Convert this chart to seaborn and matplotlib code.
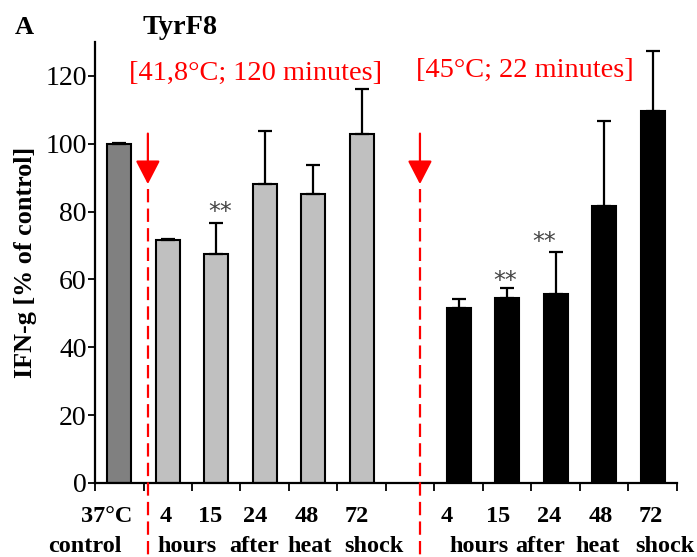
import matplotlib
matplotlib.use("Agg")
import matplotlib.pyplot as plt
import matplotlib.transforms as mtransforms
import seaborn as sns
import pandas as pd
import numpy as np

# ---- data ----
categories = ["ctrl", "g4", "g15", "g24", "g48", "g72", "gap", "b4", "b15", "b24", "b48", "b72"]
values = [100, 71.7, 67.5, 88.2, 85.2, 103.0, None, 51.6, 54.6, 55.8, 81.8, 109.6]
err_up = [0.3, 0.3, 9.0, 15.5, 8.6, 13.0, None, 2.5, 3.0, 12.4, 24.9, 17.8]
bar_colors = ["#808080"] + ["#c0c0c0"] * 5 + ["white"] + ["#000000"] * 5
tick_labels_top = ["37°C", "4", "15", "24", "48", "72", "4", "15", "24", "48", "72"]
tick_label_pos = [-0.26, 0.96, 1.88, 2.80, 3.86, 4.90, 6.76, 7.81, 8.87, 9.92, 10.95]
row2_words = ["control", "hours", "after", "heat", "shock", "hours", "after", "heat", "shock"]
row2_pos = [-0.70, 1.40, 2.78, 3.93, 5.24, 7.41, 8.67, 9.86, 11.25]
stars_x = [2.08, 7.96, 8.77]
stars_y = [80.0, 59.6, 71.1]
treat_labels = ["[41,8°C; 120 minutes]", "[45°C; 22 minutes]"]

sns.set_style("white")
plt.rcParams["font.family"] = ["Liberation Serif", "DejaVu Serif"]
plt.rcParams["text.color"] = "black"
plt.rcParams["axes.labelcolor"] = "black"
plt.rcParams["xtick.color"] = "black"
plt.rcParams["ytick.color"] = "black"

df = pd.DataFrame({"cat": categories, "val": values})
df = df[df["cat"] != "gap"]
pal = {c: col for c, col in zip(categories, bar_colors)}

fig = plt.figure(figsize=(6.97, 5.57), dpi=100)
ax = fig.add_axes([95 / 697, 1 - 483 / 557, (677 - 95) / 697, (483 - 42) / 557])

sns.barplot(data=df, x="cat", y="val", order=categories, hue="cat", palette=pal,
            width=0.5, edgecolor="black", linewidth=1.5, legend=False, ax=ax, errorbar=None)

for i, (c, v, e) in enumerate(zip(categories, values, err_up)):
    if v is None:
        continue
    ax.errorbar(i, v, yerr=[[0], [e]], fmt="none", ecolor="black", elinewidth=1.6,
                capsize=5, capthick=1.6, zorder=3)

for sx, sy in zip(stars_x, stars_y):
    ax.text(sx, sy, "**", ha="center", va="center", fontsize=17,
            color="#444444", family="DejaVu Sans")

ax.set_xlim(-0.5, 11.5)
ax.set_ylim(0, 130)
ax.set_yticks(np.arange(0, 121, 20))
ax.tick_params(axis="y", labelsize=20, length=5, width=1.3, direction="out", left=True, pad=1,
               colors="black")
ax.set_xticks(np.arange(-0.5, 12, 1))
ax.set_xticklabels([])
ax.tick_params(axis="x", length=6, width=1.3, direction="out", bottom=True, colors="black")
for s in ["top", "right"]:
    ax.spines[s].set_visible(False)
for s in ["left", "bottom"]:
    ax.spines[s].set_linewidth(1.6)
    ax.spines[s].set_color("black")
ax.set_xlabel("")
ax.set_ylabel("IFN-g [% of control]", fontsize=18.8, fontweight="bold", color="black")
ax.yaxis.set_label_coords(-0.10, 0.50)

trans = mtransforms.blended_transform_factory(ax.transData, ax.transAxes)
for lab, xp in zip(tick_labels_top, tick_label_pos):
    ax.text(xp, -0.077, lab, transform=trans, ha="center", va="center",
            fontsize=17.5, fontweight="bold", color="black")
for w, xp in zip(row2_words, row2_pos):
    ax.text(xp, -0.145, w, transform=trans, ha="center", va="center",
            fontsize=17.5, fontweight="bold", color="black")

# heat shock arrows
for xa in [0.59, 6.2]:
    ax.annotate("", xy=(xa, 88.1), xytext=(xa, 103),
                arrowprops=dict(arrowstyle="-|>,head_length=1.45,head_width=0.75",
                                color="red", lw=1.6, shrinkA=0, shrinkB=0),
                annotation_clip=False)
    ax.plot([xa, xa], [86.6, -21.5], color="red", lw=1.6, ls=(0, (6, 2.8)),
            clip_on=False, zorder=4)

ax.text(2.82, 120.6, treat_labels[0], color="red", fontsize=20.4, ha="center", va="center")
ax.text(8.36, 121.5, treat_labels[1], color="red", fontsize=20.4, ha="center", va="center")

fig.text(24 / 697, 1 - 28 / 557, "A", fontsize=19, fontweight="bold", ha="center", va="center",
         color="black")
fig.text(180 / 697, 1 - 27 / 557, "TyrF8", fontsize=20.4, fontweight="bold", ha="center",
         va="center", color="black")

fig.savefig("out.png", dpi=100)
